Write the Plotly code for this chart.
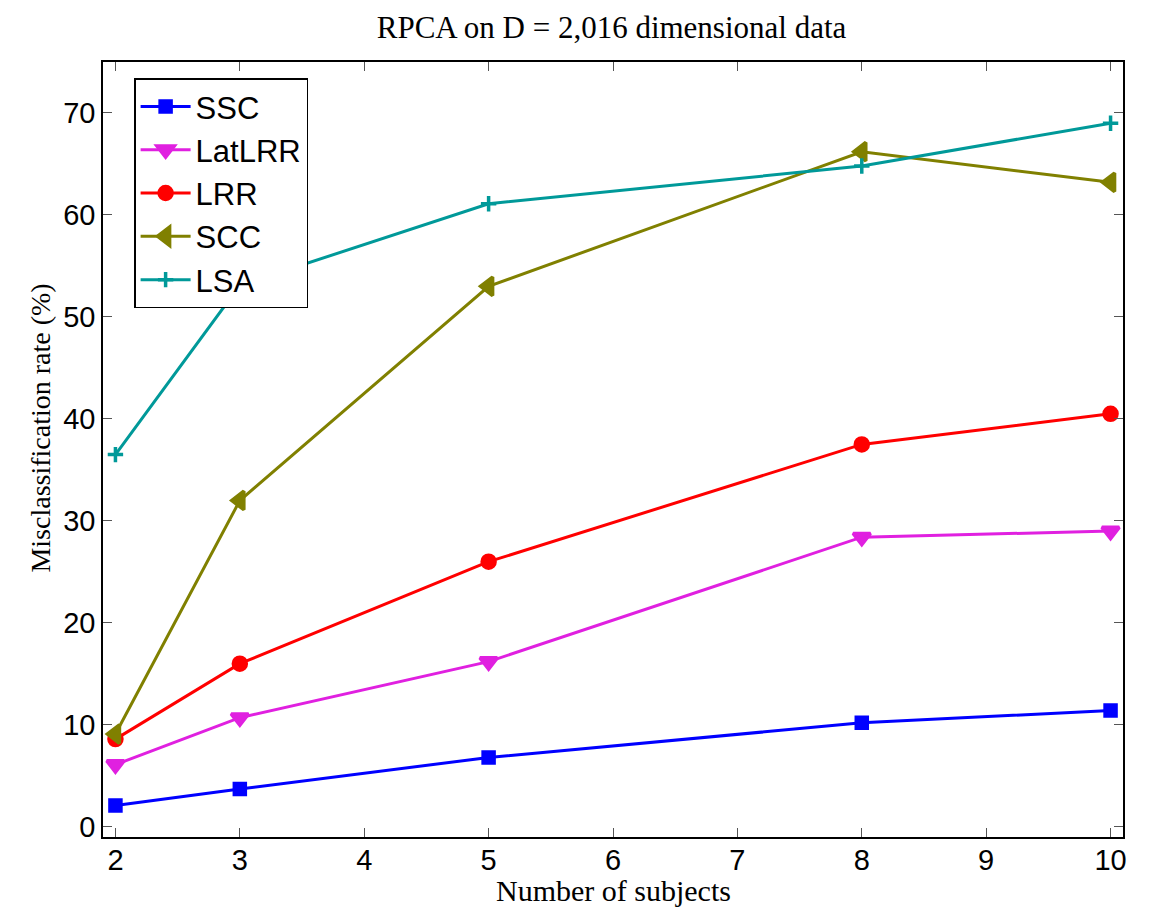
import plotly.graph_objects as go

subjects = [2, 3, 5, 8, 10]
ssc = [2.1, 3.7, 6.8, 10.2, 11.4]
latlrr = [6.1, 10.7, 16.2, 28.4, 29.0]
lrr = [8.6, 16.0, 26.0, 37.5, 40.5]
scc = [9.1, 32.0, 53.0, 66.2, 63.2]
lsa = [36.5, 53.1, 61.1, 64.8, 69.0]

series = [
    ("SSC", ssc, "#0000ff", "square", 11),
    ("LatLRR", latlrr, "#e020e0", "triangle-down", 15),
    ("LRR", lrr, "#ff0000", "circle", 13),
    ("SCC", scc, "#808000", "triangle-left", 16),
    ("LSA", lsa, "#009999", "cross-thin", 11),
]

fig = go.Figure()
for name, vals, col, sym, sz in series:
    fig.add_trace(go.Scatter(
        x=subjects, y=vals, name=name, mode="lines+markers",
        line=dict(color=col, width=3),
        marker=dict(symbol=sym, size=sz, color=col, line=dict(color=col, width=3.5)),
    ))

axis_common = dict(
    showline=True, linecolor="black", linewidth=1.5, mirror="ticks",
    ticks="inside", ticklen=9, tickcolor="#555", tickwidth=1.2,
    showgrid=False, zeroline=False, automargin=False,
    tickfont=dict(family="Liberation Sans, Arial", size=29, color="black"),
)

serif = "Liberation Serif, Times New Roman"

fig.update_layout(
    width=1156, height=907,
    margin=dict(l=103, r=33, t=62, b=70),
    paper_bgcolor="white", plot_bgcolor="white",
    title=dict(text="RPCA on D = 2,016 dimensional data", x=0.529, xanchor="center",
               y=0.970, yanchor="middle",
               font=dict(family=serif, size=31, color="black")),
    xaxis=dict(range=[1.9, 10.1], tickvals=list(range(2, 11)),
               ticklabelstandoff=-4, **axis_common),
    yaxis=dict(range=[-1, 75], tickvals=list(range(0, 71, 10)), **axis_common),
    legend=dict(x=0.0305, y=0.979, xanchor="left", yanchor="top",
                bordercolor="black", borderwidth=1.5, bgcolor="white",
                font=dict(family="Liberation Sans, Arial", size=31, color="black"),
                itemwidth=50, tracegroupgap=0),
    showlegend=True,
    annotations=[
        dict(text="Misclassification rate (%)", textangle=-90,
             xref="paper", yref="paper", x=-0.061, y=0.528,
             xanchor="center", yanchor="middle", showarrow=False,
             font=dict(family=serif, size=28, color="black")),
        dict(text="Number of subjects",
             xref="paper", yref="paper", x=0.5, y=-0.069,
             xanchor="center", yanchor="middle", showarrow=False,
             font=dict(family=serif, size=30, color="black")),
    ],
)

fig.write_html("out.html")
